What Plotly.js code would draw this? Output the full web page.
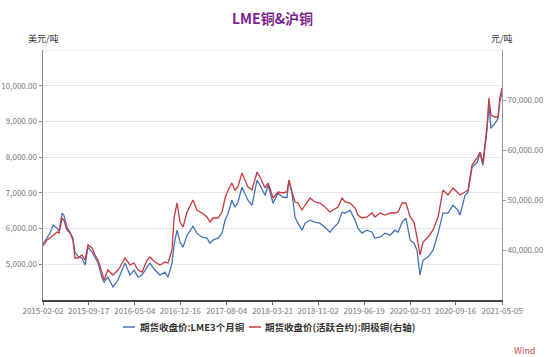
<!DOCTYPE html>
<html>
<head>
<meta charset="utf-8">
<script src="https://cdn.plot.ly/plotly-3.0.1.min.js"></script>
<style>html,body{margin:0;padding:0;background:#fff;}#chart{width:550px;height:357px;}</style>
</head>
<body>
<div id="chart"></div>
<script>
const dates = ["2015-02-02","2015-02-22","2015-03-09","2015-03-24","2015-04-13","2015-04-23","2015-05-08","2015-05-17","2015-06-01","2015-06-16","2015-07-01","2015-07-11","2015-07-26","2015-08-15","2015-08-30","2015-09-14","2015-10-04","2015-10-19","2015-11-03","2015-11-23","2015-12-03","2015-12-22","2016-01-16","2016-02-10","2016-02-20","2016-03-16","2016-04-10","2016-04-30","2016-05-20","2016-06-09","2016-07-04","2016-07-18","2016-08-12","2016-09-06","2016-10-01","2016-10-16","2016-11-05","2016-11-15","2016-11-30","2016-12-15","2016-12-30","2017-01-19","2017-02-02","2017-02-17","2017-03-09","2017-04-03","2017-04-28","2017-05-13","2017-05-28","2017-06-22","2017-07-12","2017-07-27","2017-08-11","2017-08-30","2017-09-14","2017-09-29","2017-10-19","2017-11-03","2017-11-18","2017-12-08","2018-01-02","2018-01-17","2018-02-11","2018-02-26","2018-03-23","2018-04-16","2018-05-11","2018-05-31","2018-06-10","2018-06-25","2018-07-10","2018-07-25","2018-08-14","2018-08-29","2018-09-23","2018-10-17","2018-11-11","2018-12-06","2018-12-31","2019-01-15","2019-02-09","2019-03-01","2019-03-16","2019-04-10","2019-05-05","2019-05-19","2019-06-08","2019-07-03","2019-07-28","2019-08-12","2019-09-06","2019-10-01","2019-10-26","2019-11-20","2019-12-05","2019-12-25","2020-01-13","2020-02-03","2020-02-22","2020-03-08","2020-03-23","2020-04-07","2020-05-02","2020-05-27","2020-06-21","2020-07-15","2020-08-09","2020-09-03","2020-09-28","2020-10-08","2020-11-02","2020-11-17","2020-12-07","2021-01-01","2021-01-16","2021-01-30","2021-02-19","2021-03-01","2021-03-11","2021-03-31","2021-04-15","2021-04-25","2021-05-05"];
const lmeCopper = [5564,5732,5871,6095,6011,5927,6430,6374,6039,5899,5732,5341,5229,5173,4978,5480,5341,5201,5033,4614,4503,4642,4363,4559,4698,5033,4698,4838,4642,4698,4922,5033,4838,4698,4782,4642,5033,5536,5955,5620,5480,5815,5927,6067,5871,5760,5732,5592,5676,5732,5871,6234,6430,6793,6597,6737,7156,6989,6793,6653,7352,7212,6933,7212,6709,6989,6877,6877,7352,6989,6318,6151,5955,6151,6234,6179,6151,6039,5899,6011,6151,6458,6430,6514,6234,6011,5871,5955,5899,5732,5760,5871,5815,5955,5899,6179,6290,5676,5592,5397,4698,5117,5201,5397,5871,6430,6430,6653,6514,6374,6933,7017,7715,7855,8106,7771,8748,9446,8804,8944,9083,9586,9810];
const shfeCopper = [40800,42000,42400,43000,43600,43400,46400,46000,44000,43400,42000,38400,38400,39000,38000,41000,40400,39000,38000,35400,34000,36000,35000,36000,36600,38400,37000,37400,36000,35600,38000,38600,37600,37000,37600,37400,40000,46400,49400,45600,44600,47600,48800,50000,48000,47400,46600,45600,46400,46400,47600,50400,52000,53400,52000,52600,55400,54000,52600,52000,55600,54600,52400,53400,50400,51600,51400,51600,54000,51600,49600,49400,48000,49000,50400,49600,49400,48600,47600,48000,48600,50400,49600,49400,48400,47000,46400,46600,47400,46600,47400,47000,47400,47400,47600,49400,49400,46600,45600,42600,39000,41600,42600,44000,46600,52000,51000,52400,51400,51000,51600,52000,57000,58400,59600,57400,64600,70400,67000,66600,66600,70600,72400];
const tickDates = ["2015-02-02","2015-09-17","2016-05-04","2016-12-16","2017-08-04","2018-03-21","2018-11-02","2019-06-19","2020-02-03","2020-09-16","2021-05-05"];
const leftTicks = [5000,6000,7000,8000,9000,10000];
const rightTicks = [40000,50000,60000,70000];
const seriesNames = ["期货收盘价:LME3个月铜","期货收盘价(活跃合约):阴极铜(右轴)"];
const seriesColors = ['#4473BA', '#C9383D'];

const fontFam = "'Noto Sans CJK SC', 'Noto Sans', sans-serif";
const traces = [
  {x: dates, y: lmeCopper, name: seriesNames[0], type: 'scatter', mode: 'lines',
   line: {color: seriesColors[0], width: 1.3}, yaxis: 'y'},
  {x: dates, y: shfeCopper, name: seriesNames[1], type: 'scatter', mode: 'lines',
   line: {color: seriesColors[1], width: 1.3}, yaxis: 'y2'}
];
// custom legend (paper coordinates of plot area: 459 x 250 px)
const legY = -27/250;
const legendShapes = [
  {type: 'line', xref: 'paper', yref: 'paper', x0: 80/459, x1: 92/459, y0: legY, y1: legY, line: {color: seriesColors[0], width: 1.5}},
  {type: 'line', xref: 'paper', yref: 'paper', x0: 206/459, x1: 218/459, y0: legY, y1: legY, line: {color: seriesColors[1], width: 1.5}}
];
const legendAnn = [
  {text: '<b>' + seriesNames[0] + '</b>', xref: 'paper', yref: 'paper', x: 95/459, y: legY, xanchor: 'left', yanchor: 'middle',
   showarrow: false, font: {family: fontFam, size: 9.5, color: '#333'}},
  {text: '<b>' + seriesNames[1] + '</b>', xref: 'paper', yref: 'paper', x: 220/459, y: legY, xanchor: 'left', yanchor: 'middle',
   showarrow: false, font: {family: fontFam, size: 9.5, color: '#333'}}
];
const layout = {
  width: 550, height: 357,
  margin: {l: 43, r: 48, t: 50, b: 57},
  paper_bgcolor: '#fff', plot_bgcolor: '#fff',
  font: {family: fontFam, size: 8, color: '#666'},
  title: {text: '<b>LME铜&沪铜</b>', font: {family: fontFam, size: 14, color: '#7E1F8E'},
          x: 0.5, xref: 'paper', y: 1 - 19/357, yref: 'container', yanchor: 'middle'},
  showlegend: false,
  xaxis: {type: 'date', range: ['2015-02-02', '2021-05-05'], tickmode: 'array', tickvals: tickDates, ticktext: tickDates,
          showgrid: false, showline: true, linecolor: '#444', linewidth: 1.5, ticks: 'outside', ticklen: 3, tickcolor: '#666',
          tickfont: {size: 8, color: '#777'}, zeroline: false, fixedrange: true},
  yaxis: {range: [4000, 11000], tickmode: 'array', tickvals: leftTicks, tickformat: ',.2f',
          showgrid: true, gridcolor: '#E8E8E8', gridwidth: 1, showline: true, linecolor: '#888', linewidth: 1.5,
          ticks: 'outside', ticklen: 3, tickcolor: '#888', tickfont: {size: 8, color: '#777'}, zeroline: false},
  yaxis2: {range: [30000, 80000], overlaying: 'y', side: 'right', tickmode: 'array', tickvals: rightTicks, tickformat: ',.2f',
           showgrid: false, showline: true, linecolor: '#999', linewidth: 1, ticks: 'outside', ticklen: 3, tickcolor: '#999',
           tickfont: {size: 8, color: '#777'}, zeroline: false},
  shapes: [{type: 'line', xref: 'paper', yref: 'paper', x0: 0, x1: 1, y0: 1, y1: 1, line: {color: '#EBEBEB', width: 1}}].concat(legendShapes),
  annotations: [
    {text: '美元/吨', xref: 'paper', yref: 'paper', x: 0, y: 1 + 11/250, xanchor: 'center', yanchor: 'middle', showarrow: false,
     font: {family: fontFam, size: 9, color: '#333'}},
    {text: '元/吨', xref: 'paper', yref: 'paper', x: 1, y: 1 + 11/250, xanchor: 'center', yanchor: 'middle', showarrow: false,
     font: {family: fontFam, size: 9, color: '#333'}},
    {text: 'Wind', xref: 'paper', yref: 'paper', x: 1 + 22/459, y: -50/250, xanchor: 'center', yanchor: 'middle', showarrow: false,
     font: {family: fontFam, size: 9, color: '#C0504D'}}
  ].concat(legendAnn)
};
Plotly.newPlot('chart', traces, layout, {displayModeBar: false, staticPlot: true});
</script>
</body>
</html>
